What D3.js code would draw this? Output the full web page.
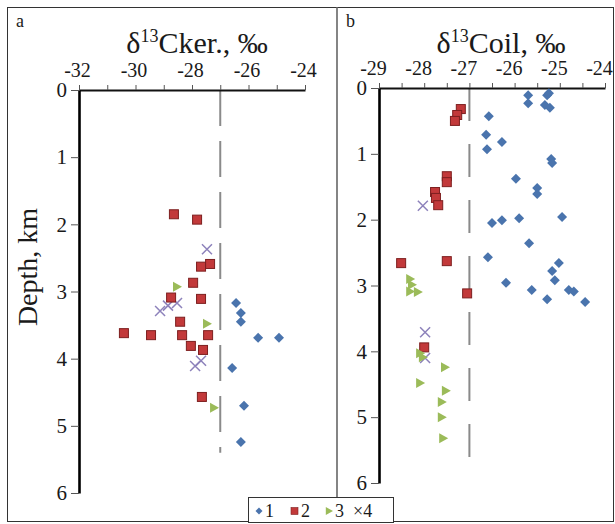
<!DOCTYPE html>
<html>
<head>
<meta charset="utf-8">
<script src="https://cdn.jsdelivr.net/npm/d3@7"></script>
<style>
  html, body { margin: 0; padding: 0; background: #fff; }
  svg { display: block; }
  text { font-family: "Liberation Serif", "DejaVu Serif", serif; fill: #1a1a1a; }
</style>
</head>
<body>
<svg id="chart" width="615" height="524"></svg>
<script>
// ---------- DATA ----------
// Panel a: δ13C kerogen (‰) vs depth (km)
const aTicks = [-32, -31, -30, -29, -28, -27, -26, -25, -24];
const aLabels = [-32, -30, -28, -26, -24];
const depthTicks = [0, 1, 2, 3, 4, 5, 6];
const aS1 = [[-26.44,3.17],[-26.27,3.32],[-26.27,3.45],[-25.66,3.69],[-24.92,3.69],[-26.58,4.14],[-26.16,4.70],[-26.27,5.24]];
const aS2 = [[-28.64,1.85],[-27.82,1.93],[-27.68,2.63],[-27.36,2.59],[-27.96,2.87],[-28.74,3.09],[-27.68,3.11],[-28.42,3.45],[-30.41,3.62],[-29.45,3.65],[-28.35,3.65],[-27.43,3.65],[-28.04,3.81],[-27.61,3.87],[-27.65,4.57]];
const aS3 = [[-28.53,2.93],[-27.47,3.48],[-27.22,4.73]];
const aS4 = [[-27.47,2.37],[-29.13,3.29],[-28.85,3.21],[-28.53,3.17],[-27.89,4.11],[-27.68,4.03]];
const aRef = -27, aRefEnd = 5.4;

// Panel b: δ13C oil (‰) vs depth (km)
const bTicks = [-29, -28.5, -28, -27.5, -27, -26.5, -26, -25.5, -25, -24.5, -24];
const bLabels = [-29, -28, -27, -26, -25, -24];
const bS1 = [[-25.70,0.11],[-25.70,0.23],[-25.28,0.11],[-25.24,0.08],[-25.33,0.26],[-25.22,0.30],[-26.57,0.43],[-26.63,0.71],[-26.28,0.82],[-26.61,0.93],[-25.19,1.08],[-25.17,1.14],[-25.97,1.38],[-25.50,1.52],[-25.50,1.61],[-24.95,1.96],[-26.50,2.05],[-26.28,2.01],[-25.90,1.98],[-25.68,2.36],[-26.59,2.57],[-25.02,2.66],[-25.17,2.78],[-25.11,2.92],[-26.19,2.96],[-25.62,3.07],[-25.28,3.21],[-24.80,3.07],[-24.69,3.09],[-24.44,3.25]];
const bS2 = [[-27.19,0.32],[-27.27,0.41],[-27.32,0.50],[-27.50,1.34],[-27.50,1.43],[-27.76,1.58],[-27.74,1.67],[-27.69,1.78],[-28.51,2.66],[-27.50,2.63],[-27.05,3.12],[-28.00,3.94]];
const bS3 = [[-28.31,2.90],[-28.27,2.99],[-28.31,3.09],[-28.14,3.10],[-28.09,4.03],[-28.03,4.09],[-27.54,4.24],[-28.09,4.48],[-27.52,4.60],[-27.61,4.77],[-27.61,5.00],[-27.58,5.32]];
const bS4 = [[-28.03,1.79],[-27.98,3.71],[-27.98,4.10]];
const bRef = -27, bRefEnd = 5.76;

const legendLabels = ["1", "2", "3", "4"];

// ---------- DRAW ----------
const svg = d3.select("#chart");
svg.append("rect").attr("width", 615).attr("height", 524).attr("fill", "#fff");

// frame
svg.append("rect").attr("x", 7.5).attr("y", 7.5).attr("width", 606).attr("height", 514)
  .attr("fill", "none").attr("stroke", "#333").attr("stroke-width", 1);
svg.append("line").attr("x1", 337).attr("x2", 337).attr("y1", 7).attr("y2", 522)
  .attr("stroke", "#666").attr("stroke-width", 1.6);

const COL = {
  s1: "#4a74ad",
  s2: "#c2393a", s2stroke: "#7d1f1f",
  s3: "#9bbb59",
  s4: "#8d82bb"
};

function diamondPath(r) { return `M0,${-r}L${r},0L0,${r}L${-r},0Z`; }
function triPath(r) { return `M${-r*0.8},${-r}L${r},0L${-r*0.8},${r}Z`; }

function drawPanel(cfg) {
  const x = d3.scaleLinear().domain(cfg.xDomain).range(cfg.xRange);
  const y = d3.scaleLinear().domain([0, 6]).range(cfg.yRange);
  const g = svg.append("g");

  // dashed reference
  g.append("line")
    .attr("x1", x(cfg.ref)).attr("x2", x(cfg.ref))
    .attr("y1", y(0)).attr("y2", y(cfg.refEnd))
    .attr("stroke", "#8a8a8a").attr("stroke-width", 2)
    .attr("stroke-dasharray", cfg.dash);

  // top axis
  const labelSet = new Set(cfg.labels);
  const xAxis = d3.axisTop(x).tickValues(cfg.ticks).tickSize(5).tickSizeOuter(0).tickPadding(8)
    .tickFormat(d => labelSet.has(d) ? String(d) : "");
  const gx = g.append("g").attr("transform", `translate(0,${y(0)})`).call(xAxis);
  gx.select(".domain").attr("stroke", "#111").attr("stroke-width", 1.8);
  gx.selectAll(".tick line").attr("stroke", "#555").attr("stroke-width", 1);
  gx.selectAll(".tick text").style("font-family", "Liberation Serif").style("font-size", "20px")
    .attr("fill", "#1a1a1a").attr("dx", cfg.labelDx);

  // left axis
  const yAxis = d3.axisLeft(y).tickValues(depthTicks).tickSize(8).tickSizeOuter(0).tickPadding(4)
    .tickFormat(d => String(d));
  const gy = g.append("g").attr("transform", `translate(${x(cfg.xDomain[0])},0)`).call(yAxis);
  gy.select(".domain").attr("stroke", "#000").attr("stroke-width", 2.6);
  gy.selectAll(".tick line").attr("stroke", "#555").attr("stroke-width", 1);
  gy.selectAll(".tick text").style("font-family", "Liberation Serif").style("font-size", "21px").attr("fill", "#1a1a1a");

  // title
  const t = g.append("text").attr("x", cfg.titleX).attr("y", 53).attr("text-anchor", "middle")
    .style("font-size", "30px");
  t.append("tspan").text("δ");
  t.append("tspan").attr("dy", -11).style("font-size", "18px").text("13");
  t.append("tspan").attr("dy", 11).text(cfg.titleRest);

  // panel letter
  g.append("text").attr("x", cfg.letterX).attr("y", 27).style("font-size", "18px").text(cfg.letter);

  // series 4 (x marks)
  const r4 = 5;
  const xs = g.append("g");
  cfg.s4.forEach(p => {
    const cx = x(p[0]), cy = y(p[1]);
    xs.append("path").attr("d", `M${cx-r4},${cy-r4}L${cx+r4},${cy+r4}M${cx-r4},${cy+r4}L${cx+r4},${cy-r4}`)
      .attr("stroke", COL.s4).attr("stroke-width", 1.5).attr("fill", "none");
  });

  // series 1 diamonds
  g.append("g").selectAll("path").data(cfg.s1).join("path")
    .attr("transform", p => `translate(${x(p[0])},${y(p[1])})`)
    .attr("d", diamondPath(5)).attr("fill", COL.s1);

  // series 2 squares
  g.append("g").selectAll("rect").data(cfg.s2).join("rect")
    .attr("x", p => x(p[0]) - 4.5).attr("y", p => y(p[1]) - 4.5)
    .attr("width", 9).attr("height", 9)
    .attr("fill", COL.s2).attr("stroke", COL.s2stroke).attr("stroke-width", 1);

  // series 3 triangles
  g.append("g").selectAll("path").data(cfg.s3).join("path")
    .attr("transform", p => `translate(${x(p[0])},${y(p[1])})`)
    .attr("d", triPath(5)).attr("fill", COL.s3);
}

drawPanel({
  xDomain: [-32, -24], xRange: [79, 305], yRange: [90, 493],
  ticks: aTicks, labels: aLabels, ref: aRef, refEnd: aRefEnd, dash: "36,15",
  titleX: 197, titleRest: "Cker., ‰", letter: "a", letterX: 16, labelDx: -2,
  s1: aS1, s2: aS2, s3: aS3, s4: aS4
});
drawPanel({
  xDomain: [-29, -24], xRange: [379, 605], yRange: [88, 483],
  ticks: bTicks, labels: bLabels, ref: bRef, refEnd: bRefEnd, dash: "33,23",
  titleX: 501, titleRest: "Coil, ‰", letter: "b", letterX: 346, labelDx: -6,
  s1: bS1, s2: bS2, s3: bS3, s4: bS4
});

// y-axis title
svg.append("text").attr("transform", "translate(37,267) rotate(-90)")
  .attr("text-anchor", "middle").style("font-size", "28px").text("Depth, km");

// legend
const lg = svg.append("g");
lg.append("rect").attr("x", 248.5).attr("y", 497.5).attr("width", 145).attr("height", 25)
  .attr("fill", "#fff").attr("stroke", "#333").attr("stroke-width", 1);
const ly = 511;
lg.append("path").attr("transform", `translate(259,${ly})`).attr("d", diamondPath(3.5)).attr("fill", COL.s1);
lg.append("text").attr("x", 265).attr("y", ly + 6).style("font-size", "18px").text(legendLabels[0]);
lg.append("rect").attr("x", 291).attr("y", ly - 3.5).attr("width", 7).attr("height", 7)
  .attr("fill", COL.s2).attr("stroke", COL.s2stroke).attr("stroke-width", 0.6);
lg.append("text").attr("x", 301).attr("y", ly + 6).style("font-size", "18px").text(legendLabels[1]);
lg.append("path").attr("transform", `translate(329,${ly})`).attr("d", triPath(4)).attr("fill", COL.s3);
lg.append("text").attr("x", 335).attr("y", ly + 6).style("font-size", "18px").text(legendLabels[2]);
lg.append("text").attr("x", 353).attr("y", ly + 6).style("font-size", "18px").text("×" + legendLabels[3]);
</script>
</body>
</html>
